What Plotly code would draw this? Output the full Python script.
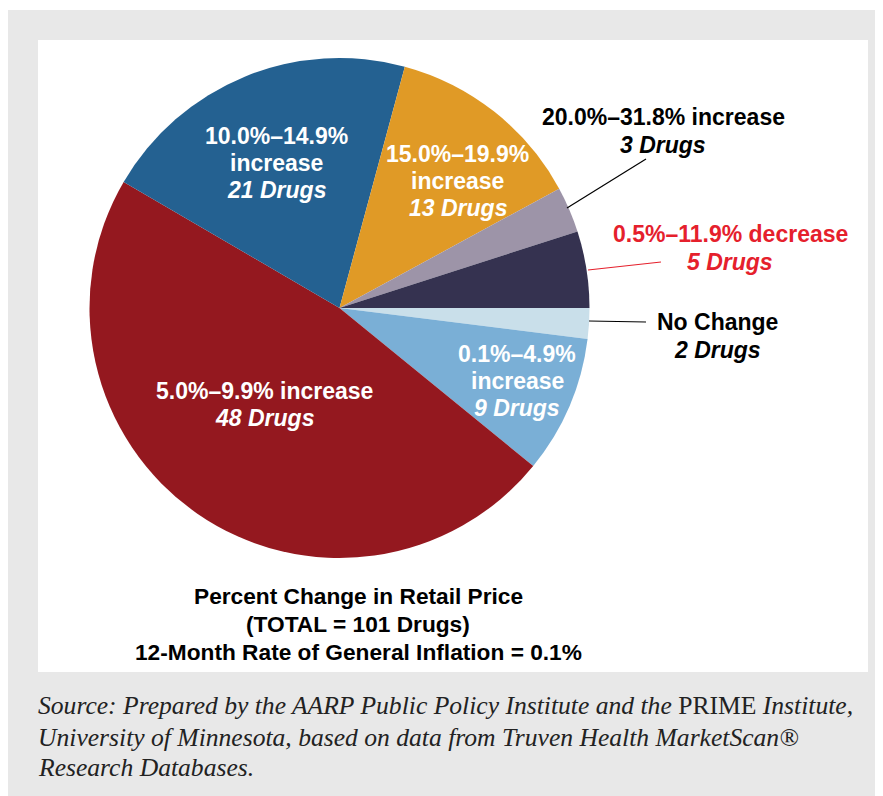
import plotly.graph_objects as go

# ---- data (listed clockwise from 3 o'clock) ----
categories = [
    "No Change",
    "0.1%–4.9% increase",
    "5.0%–9.9% increase",
    "10.0%–14.9% increase",
    "15.0%–19.9% increase",
    "20.0%–31.8% increase",
    "0.5%–11.9% decrease",
]
drug_counts = [2, 9, 48, 21, 13, 3, 5]
slice_colors = ["#c9dfea", "#7aafd6", "#94181f", "#246191", "#e09a26", "#9d94a8", "#353250"]

# page body has an 8px margin; figure is sized to fill the rest of the window
WIN_W, WIN_H = 883, 796
OFF = 8
FW, FH = WIN_W - OFF, WIN_H - OFF

def px(x):
    return (x - OFF) / FW

def py(y):
    return 1 - (y - OFF) / FH

fig = go.Figure()

cx, cy, r = 339.5, 308, 250
fig.add_trace(go.Pie(
    labels=categories,
    values=drug_counts,
    marker=dict(colors=slice_colors, line=dict(width=0)),
    sort=False,
    direction="clockwise",
    rotation=90,
    textinfo="none",
    hoverinfo="label+value",
    showlegend=False,
    domain=dict(x=[px(cx - r), px(cx + r)], y=[py(cy + r), py(cy - r)]),
))

SANS = "Liberation Sans, Arial, sans-serif"
SERIF = "Liberation Serif, Times New Roman, serif"
FS = 23

annotations = []

def label(x, y, text, color, size=FS, family=SANS, xanchor="center"):
    annotations.append(dict(
        x=px(x), y=py(y), xref="paper", yref="paper", text=text,
        showarrow=False, xanchor=xanchor, yanchor="middle",
        font=dict(family=family, size=size, color=color),
    ))

# slice labels (inside)
label(276, 136, "<b>10.0%–14.9%</b>", "white")
label(276, 163, "<b>increase</b>", "white")
label(276, 190, "<b><i>21 Drugs</i></b>", "white")

label(458, 154, "<b>15.0%–19.9%</b>", "white")
label(458, 181, "<b>increase</b>", "white")
label(458, 208, "<b><i>13 Drugs</i></b>", "white")

label(264, 391, "<b>5.0%–9.9% increase</b>", "white")
label(264, 418, "<b><i>48 Drugs</i></b>", "white")

label(517, 354, "<b>0.1%–4.9%</b>", "white")
label(517, 381, "<b>increase</b>", "white")
label(517, 408, "<b><i>9 Drugs</i></b>", "white")

# outside labels
label(663, 117, "<b>20.0%–31.8% increase</b>", "black")
label(663, 145, "<b><i>3 Drugs</i></b>", "black")

RED = "#e5202c"
label(730, 234, "<b>0.5%–11.9% decrease</b>", RED)
label(730, 262, "<b><i>5 Drugs</i></b>", RED)

label(717, 322, "<b>No Change</b>", "black")
label(717, 350, "<b><i>2 Drugs</i></b>", "black")

# title block
label(358, 596, "<b>Percent Change in Retail Price</b>", "black", size=22.7)
label(358, 624, "<b>(TOTAL = 101 Drugs)</b>", "black", size=22.7)
label(358, 652, "<b>12-Month Rate of General Inflation = 0.1%</b>", "black", size=22.7)

# source
SRC = "#222222"
SFS = 25.6
label(36, 705, "<i>Source: Prepared by the AARP Public Policy Institute and the </i>PRIME<i> Institute,</i>",
      SRC, size=SFS, family=SERIF, xanchor="left")
label(36, 737, "<i>University of Minnesota, based on data from Truven Health MarketScan®</i>",
      SRC, size=SFS, family=SERIF, xanchor="left")
label(36, 767, "<i>Research Databases.</i>", SRC, size=SFS, family=SERIF, xanchor="left")

shapes = [
    dict(type="rect", xref="paper", yref="paper", x0=px(8), x1=px(WIN_W), y0=py(WIN_H), y1=py(10),
         fillcolor="#e8e8e8", line=dict(width=0), layer="below"),
    dict(type="rect", xref="paper", yref="paper", x0=px(38), x1=px(868), y0=py(672), y1=py(40),
         fillcolor="white", line=dict(width=0), layer="below"),
    # leader lines
    dict(type="line", xref="paper", yref="paper", x0=px(567), y0=py(208), x1=px(646), y1=py(159),
         line=dict(color="black", width=1.2)),
    dict(type="line", xref="paper", yref="paper", x0=px(588), y0=py(270), x1=px(661), y1=py(262),
         line=dict(color=RED, width=1.2)),
    dict(type="line", xref="paper", yref="paper", x0=px(589), y0=py(321), x1=px(646), y1=py(322),
         line=dict(color="black", width=1.2)),
]

fig.update_layout(
    width=FW, height=FH,
    margin=dict(l=0, r=0, t=0, b=0),
    paper_bgcolor="white",
    plot_bgcolor="white",
    annotations=annotations,
    shapes=shapes,
)

fig.write_html("out.html")
